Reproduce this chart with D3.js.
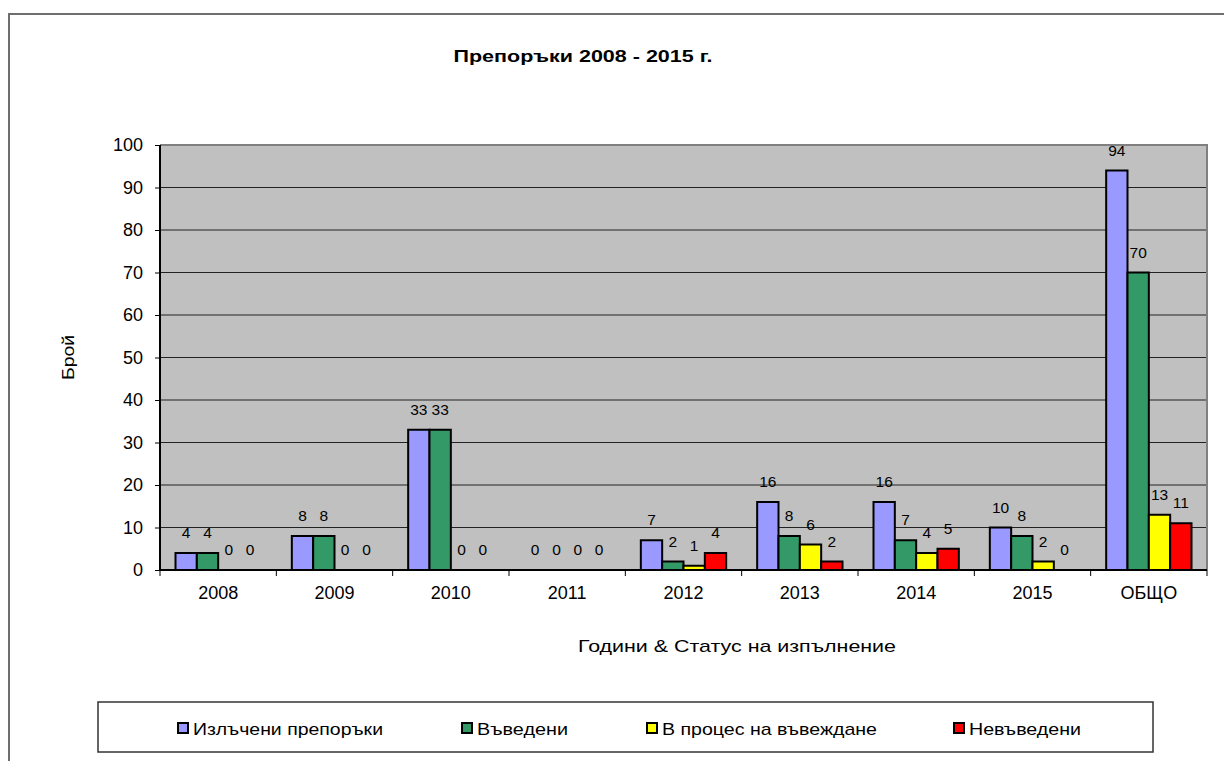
<!DOCTYPE html>
<html>
<head>
<meta charset="utf-8">
<script src="https://cdn.jsdelivr.net/npm/d3@7"></script>
<style>
  body { margin: 0; background: #fff; }
  text { font-family: "Liberation Sans", Arial, sans-serif; fill: #000; }
</style>
</head>
<body>
<div id="chart"></div>
<script>
// categories and series
var categories = ["2008", "2009", "2010", "2011", "2012", "2013", "2014", "2015", "ОБЩО"];
var seriesNames = ["Излъчени препоръки", "Въведени", "В процес на въвеждане", "Невъведени"];
var issued     = [4, 8, 33, 0, 7, 16, 16, 10, 94];
var introduced = [4, 8, 33, 0, 2, 8, 7, 8, 70];
var inProgress = [0, 0, 0, 0, 1, 6, 4, 2, 13];
var notIntro   = [0, 0, 0, 0, 4, 2, 5, 0, 11];
var yTicks = [0, 10, 20, 30, 40, 50, 60, 70, 80, 90, 100];
var colors = ["#9999FF", "#339966", "#FFFF00", "#FF0000"];

var series = [issued, introduced, inProgress, notIntro];

var W = 1224, H = 761;
var margin = { top: 145, right: 17, bottom: 191, left: 160 };
var width = W - margin.left - margin.right,
    height = H - margin.top - margin.bottom;

var svg = d3.select('#chart').append('svg')
  .attr('width', W)
  .attr('height', H);

// outer frame, only top and left show
svg.append('path')
  .attr('d', 'M9,' + H + ' V14 H' + W)
  .attr('fill', 'none')
  .attr('stroke', '#6e6e6e')
  .attr('stroke-width', 2);

svg.append('text')
  .attr('x', 583).attr('y', 62)
  .attr('text-anchor', 'middle')
  .attr('textLength', 259).attr('lengthAdjust', 'spacingAndGlyphs')
  .style('font-size', '17px')
  .style('font-weight', 'bold')
  .text('Препоръки 2008 - 2015 г.');

var g = svg.append('g')
  .attr('transform', 'translate(' + margin.left + ',' + margin.top + ')');

var x0 = d3.scaleBand().domain(categories).range([0, width]);
var x1 = d3.scaleBand().domain(d3.range(4)).range([15.5, x0.bandwidth() - 15.5]);
var y = d3.scaleLinear().domain([0, 100]).range([height, 0]);

g.append('rect')
  .attr('width', width).attr('height', height)
  .attr('fill', '#C0C0C0');

// gridlines
g.selectAll('.grid').data(yTicks.slice(1, -1)).enter().append('line')
  .attr('x1', 0).attr('x2', width)
  .attr('y1', function(d){ return y(d); })
  .attr('y2', function(d){ return y(d); })
  .attr('stroke', '#222').attr('stroke-width', 1);

// plot border top/right
g.append('path')
  .attr('d', 'M0,0 H' + width + ' V' + height)
  .attr('fill', 'none').attr('stroke', '#808080').attr('stroke-width', 2);

// bars + value labels
categories.forEach(function(cat, ci){
  series.forEach(function(vals, si){
    var v = vals[ci];
    var bx = x0(cat) + x1(si);
    if (v > 0) {
      g.append('rect')
        .attr('x', bx)
        .attr('y', y(v))
        .attr('width', x1.bandwidth())
        .attr('height', height - y(v))
        .attr('fill', colors[si])
        .attr('stroke', '#000')
        .attr('stroke-width', 2);
    }
    g.append('text')
      .attr('x', bx + x1.bandwidth() / 2)
      .attr('y', y(v) - 15)
      .attr('text-anchor', 'middle')
      .style('font-size', '15.5px')
      .text(v);
  });
});

// axes
var yAxis = d3.axisLeft(y).tickValues(yTicks).tickSize(5).tickPadding(12);
var yg = g.append('g').call(yAxis);
yg.select('.domain').attr('stroke', '#000').attr('stroke-width', 2).attr('d', 'M0,0 V' + height);
yg.selectAll('.tick line').attr('stroke', '#000');
yg.selectAll('.tick text').style('font-size', '18px').attr('font-family', null);

var xAxis = d3.axisBottom(x0).tickSize(0).tickPadding(16);
var xg = g.append('g').attr('transform', 'translate(0,' + height + ')').call(xAxis);
xg.select('.domain').attr('stroke', '#000').attr('stroke-width', 2).attr('d', 'M0,0 H' + width);
xg.selectAll('.tick text').style('font-size', '18px').attr('font-family', null);
xg.selectAll('.sep').data(d3.range(categories.length + 1)).enter().append('line')
  .attr('x1', function(d){ return d * x0.bandwidth(); })
  .attr('x2', function(d){ return d * x0.bandwidth(); })
  .attr('y1', 0).attr('y2', 6)
  .attr('stroke', '#000');

svg.append('text')
  .attr('transform', 'translate(74,' + (margin.top + height / 2) + ') rotate(-90)')
  .attr('text-anchor', 'middle')
  .attr('textLength', 45).attr('lengthAdjust', 'spacingAndGlyphs')
  .style('font-size', '17px')
  .text('Брой');

svg.append('text')
  .attr('x', 737).attr('y', 652)
  .attr('text-anchor', 'middle')
  .attr('textLength', 318).attr('lengthAdjust', 'spacingAndGlyphs')
  .style('font-size', '17px')
  .text('Години & Статус на изпълнение');

// legend
svg.append('rect')
  .attr('x', 98).attr('y', 702).attr('width', 1055).attr('height', 50)
  .attr('fill', '#fff').attr('stroke', '#333').attr('stroke-width', 1.5);

var legendX = [178, 462, 647, 954];
var legendW = [190, 91, 215, 112];
seriesNames.forEach(function(name, i){
  var lg = svg.append('g').attr('transform', 'translate(' + legendX[i] + ',723)');
  lg.append('rect')
    .attr('x', 0).attr('y', 0).attr('width', 10).attr('height', 10)
    .attr('fill', colors[i]).attr('stroke', '#000').attr('stroke-width', 2);
  lg.append('text')
    .attr('x', 15).attr('y', 11.5)
    .attr('textLength', legendW[i]).attr('lengthAdjust', 'spacingAndGlyphs')
    .style('font-size', '17px')
    .text(name);
});
</script>
</body>
</html>
